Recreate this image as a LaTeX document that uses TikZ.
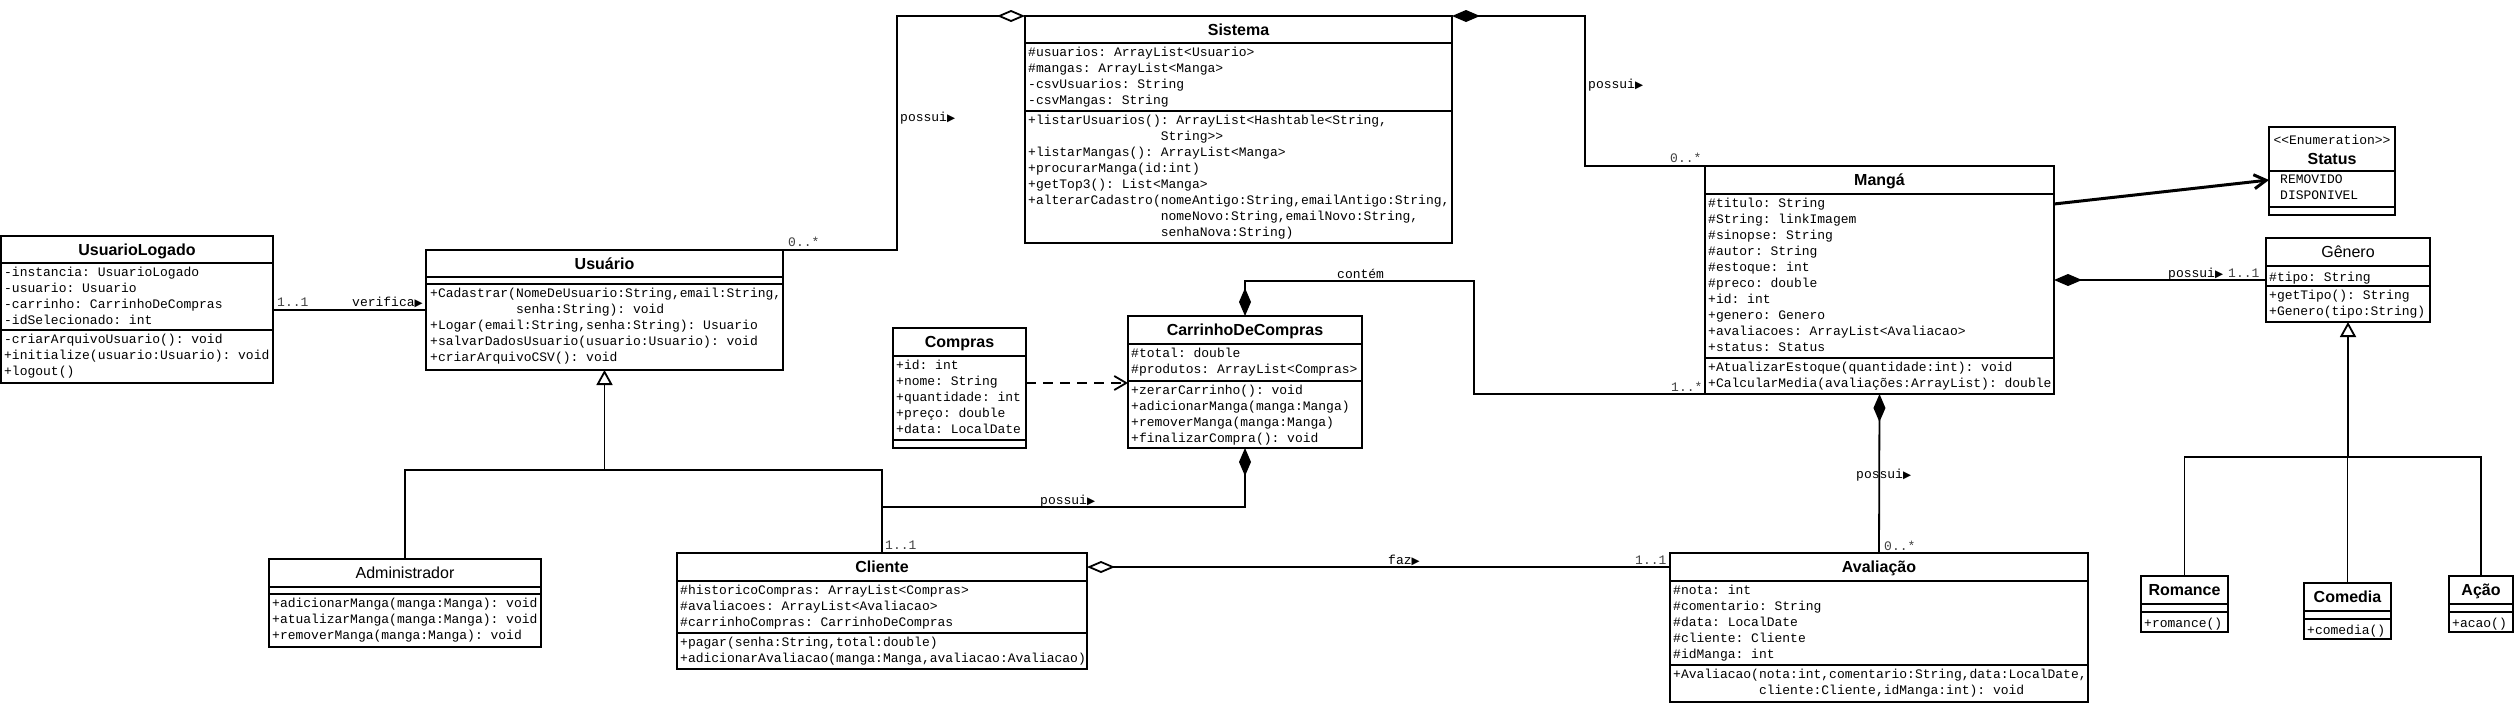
\documentclass[tikz,border=0pt]{standalone}
\usepackage{fontspec}
\setmainfont{Liberation Sans}
\setsansfont{Liberation Sans}
\setmonofont{Liberation Mono}
\newfontfamily\dvsym{DejaVu Sans}
\usetikzlibrary{arrows.meta,calc}
\newcommand\umltri{{\dvsym\fontsize{10.5}{10}\selectfont ▶}}
\begin{document}
\begin{tikzpicture}[x=1pt,y=-1pt,
  clsbox/.style={draw, line width=1.8pt, anchor=north west, inner sep=0pt, outer sep=0pt},
  ln/.style={line width=1.8pt},
  sepl/.style={line width=1.8pt},
  mono/.style={anchor=north west, inner sep=0pt, align=left, font=\fontsize{13}{16}\selectfont\ttfamily, execute at begin node=\strut},
  ttl/.style={anchor=base, inner sep=0pt, font=\fontsize{16}{19}\selectfont\sffamily\bfseries},
  ttlr/.style={anchor=base, inner sep=0pt, font=\fontsize{16}{19}\selectfont\sffamily},
  lbl/.style={anchor=base west, inner sep=0pt, font=\fontsize{13}{16}\selectfont\ttfamily},
  mult/.style={lbl, text=black!75},
  compo/.style={ln, {Diamond[length=28pt,width=12pt]}-},
  aggro/.style={ln, {Diamond[open,length=28pt,width=12pt]}-},
  genz/.style={ln, -{Triangle[length=15pt,width=16pt,fill=white]}},
  depz/.style={ln, dash pattern=on 10pt off 7pt, -{Straight Barb[length=12pt,width=14pt]}},
  asc/.style={line width=3pt, -{Straight Barb[length=12pt,width=14pt]}},
]
\fill[white] (0,0) rectangle (2515,704);
\useasboundingbox (0,0) rectangle (2515,704);

% ---------- UsuarioLogado
\node[clsbox, minimum width=272pt, minimum height=147pt] (ul) at (1,236) {};
\draw[sepl] (1,263) -- (273,263); \draw[sepl] (1,330) -- (273,330);
\node[ttl] (ulT) at (137,255.5) {UsuarioLogado};
\node[mono] (ulA) at (4,266.8) {-instancia: UsuarioLogado\\-usuario: Usuario\\-carrinho: CarrinhoDeCompras\\-idSelecionado: int};
\node[mono] (ulM) at (4,333.8) {-criarArquivoUsuario(): void\\+initialize(usuario:Usuario): void\\+logout()};

% ---------- Usuario
\node[clsbox, minimum width=357pt, minimum height=120pt] (usu) at (426,250) {};
\draw[sepl] (426,277) -- (783,277); \draw[sepl] (426,284) -- (783,284);
\node[ttl] (usuT) at (604.5,269) {Usuário};
\node[mono] (usuM) at (430,287.8) {+Cadastrar(NomeDeUsuario:String,email:String,\\\phantom{+Cadastrar(}senha:String): void\\+Logar(email:String,senha:String): Usuario\\+salvarDadosUsuario(usuario:Usuario): void\\+criarArquivoCSV(): void};

% ---------- Sistema
\node[clsbox, minimum width=427pt, minimum height=227pt] (sis) at (1025,16) {};
\draw[sepl] (1025,43) -- (1452,43); \draw[sepl] (1025,111) -- (1452,111);
\node[ttl] (sisT) at (1238.5,35) {Sistema};
\node[mono] (sisA) at (1028,46.8) {\#usuarios: ArrayList<Usuario>\\\#mangas: ArrayList<Manga>\\-csvUsuarios: String\\-csvMangas: String};
\node[mono] (sisM) at (1028,114.8) {+listarUsuarios(): ArrayList<Hashtable<String,\\\phantom{+listarUsuarios()}String>{}>\\+listarMangas(): ArrayList<Manga>\\+procurarManga(id:int)\\+getTop3(): List<Manga>\\+alterarCadastro(nomeAntigo:String,emailAntigo:String,\\\phantom{+alterarCadastro(}nomeNovo:String,emailNovo:String,\\\phantom{+alterarCadastro(}senhaNova:String)};

% ---------- Compras
\node[clsbox, minimum width=133pt, minimum height=120pt] (comp) at (893,328) {};
\draw[sepl] (893,356) -- (1026,356); \draw[sepl] (893,440) -- (1026,440);
\node[ttl] (compT) at (959.5,347.5) {Compras};
\node[mono] (compA) at (896,359.8) {+id: int\\+nome: String\\+quantidade: int\\+preço: double\\+data: LocalDate};

% ---------- CarrinhoDeCompras
\node[clsbox, minimum width=234pt, minimum height=132pt] (carr) at (1128,316) {};
\draw[sepl] (1128,344) -- (1362,344); \draw[sepl] (1128,381) -- (1362,381);
\node[ttl] (carrT) at (1245,335.5) {CarrinhoDeCompras};
\node[mono] (carrA) at (1131,347.8) {\#total: double\\\#produtos: ArrayList<Compras>};
\node[mono] (carrM) at (1131,384.8) {+zerarCarrinho(): void\\+adicionarManga(manga:Manga)\\+removerManga(manga:Manga)\\+finalizarCompra(): void};

% ---------- Manga
\node[clsbox, minimum width=349pt, minimum height=228pt] (manga) at (1705,166) {};
\draw[sepl] (1705,194) -- (2054,194); \draw[sepl] (1705,358) -- (2054,358);
\node[ttl] (mangaT) at (1879.5,185.5) {Mangá};
\node[mono] (mangaA) at (1708,197.8) {\#titulo: String\\\#String: linkImagem\\\#sinopse: String\\\#autor: String\\\#estoque: int\\\#preco: double\\+id: int\\+genero: Genero\\+avaliacoes: ArrayList<Avaliacao>\\+status: Status};
\node[mono] (mangaM) at (1708,361.8) {+AtualizarEstoque(quantidade:int): void\\+CalcularMedia(avaliações:ArrayList): double};

% ---------- Status
\node[clsbox, minimum width=126pt, minimum height=88pt] (status) at (2269,127) {};
\draw[sepl] (2269,171) -- (2395,171); \draw[sepl] (2269,207) -- (2395,207);
\node[lbl, anchor=base] (statusS) at (2332,144) {<{}<Enumeration>{}>};
\node[ttl] (statusT) at (2332,164) {Status};
\node[mono] (statusA) at (2280,174.8) {REMOVIDO\\DISPONIVEL};

% ---------- Genero
\node[clsbox, minimum width=164pt, minimum height=84pt] (gen) at (2266,238) {};
\draw[sepl] (2266,266) -- (2430,266); \draw[sepl] (2266,286) -- (2430,286);
\node[ttlr] (genT) at (2348,257.5) {Gênero};
\node[mono] (genA) at (2269,269.8) {\#tipo: String};
\node[mono] (genM) at (2269,289.8) {+getTipo(): String\\+Genero(tipo:String)};

% ---------- Romance, Comedia, Acao
\node[clsbox, minimum width=87pt, minimum height=56pt] (rom) at (2141,576) {};
\draw[sepl] (2141,604) -- (2228,604); \draw[sepl] (2141,612) -- (2228,612);
\node[ttl] (romT) at (2184.5,595.5) {Romance};
\node[mono] (romM) at (2144,615.8) {+romance()};

\node[clsbox, minimum width=87pt, minimum height=56pt] (com) at (2304,583) {};
\draw[sepl] (2304,611) -- (2391,611); \draw[sepl] (2304,619) -- (2391,619);
\node[ttl] (comT) at (2347.5,602.5) {Comedia};
\node[mono] (comM) at (2307,622.8) {+comedia()};

\node[clsbox, minimum width=64pt, minimum height=56pt] (aca) at (2449,576) {};
\draw[sepl] (2449,604) -- (2513,604); \draw[sepl] (2449,612) -- (2513,612);
\node[ttl] (acaT) at (2481,595.5) {Ação};
\node[mono] (acaM) at (2452,615.8) {+acao()};

% ---------- Administrador
\node[clsbox, minimum width=272pt, minimum height=88pt] (adm) at (269,559) {};
\draw[sepl] (269,587) -- (541,587); \draw[sepl] (269,594) -- (541,594);
\node[ttlr] (admT) at (405,578.5) {Administrador};
\node[mono] (admM) at (272,597.8) {+adicionarManga(manga:Manga): void\\+atualizarManga(manga:Manga): void\\+removerManga(manga:Manga): void};

% ---------- Cliente
\node[clsbox, minimum width=410pt, minimum height=116pt] (cli) at (677,553) {};
\draw[sepl] (677,581) -- (1087,581); \draw[sepl] (677,633) -- (1087,633);
\node[ttl] (cliT) at (882,572.5) {Cliente};
\node[mono] (cliA) at (680,584.8) {\#historicoCompras: ArrayList<Compras>\\\#avaliacoes: ArrayList<Avaliacao>\\\#carrinhoCompras: CarrinhoDeCompras};
\node[mono] (cliM) at (680,636.8) {+pagar(senha:String,total:double)\\+adicionarAvaliacao(manga:Manga,avaliacao:Avaliacao)};

% ---------- Avaliacao
\node[clsbox, minimum width=418pt, minimum height=149pt] (ava) at (1670,553) {};
\draw[sepl] (1670,581) -- (2088,581); \draw[sepl] (1670,665) -- (2088,665);
\node[ttl] (avaT) at (1879,572.5) {Avaliação};
\node[mono] (avaA) at (1673,584.8) {\#nota: int\\\#comentario: String\\\#data: LocalDate\\\#cliente: Cliente\\\#idManga: int};
\node[mono] (avaM) at (1673,668.8) {+Avaliacao(nota:int,comentario:String,data:LocalDate,\\\phantom{+Avaliacao(}cliente:Cliente,idManga:int): void};

% ---------- connectors
\coordinate (j1) at (897,250);
\coordinate (j2) at (1585,166);
\coordinate (j3) at (1474,281);
\coordinate (j4) at (882,507);
\path (usu.south) ++(0,100) coordinate (j5);
\path (gen.south) ++(0,135) coordinate (j6);

\draw[ln] (ul.east |- usu.west) -- (usu.west);
\draw[aggro] (sis.north west) -| (j1) -- (usu.north east);
\draw[compo] (sis.north east) -| (j2) -- (manga.north west);
\draw[compo] (carr.north) |- (j3) |- (manga.south west);
\draw[compo] (carr.south) |- (j4);
\draw[compo] (manga.south) -- (ava.north);
\draw[compo] (manga.east |- gen.west) -- (gen.west);
\draw[aggro] ($(cli.north east)+(0,14)$) -- ($(ava.north west)+(0,14)$);
\draw[asc] ($(manga.north east)+(0,38)$) -- ($(status.north west)+(0,53)$);
\draw[depz] ($(comp.north east)+(0,55)$) -- ($(carr.north west)+(0,67)$);
\draw[genz] (adm.north) |- (j5) -- (usu.south);
\draw[ln] (cli.north) |- (j5);
\draw[genz] (rom.north) |- (j6) -- (gen.south);
\draw[ln] (aca.north) |- (j6);
\draw[ln] (com.north) |- (j6);

% ---------- labels
\node[mult] (L1) at (277,306) {1..1};
\node[lbl] (L2) at (352,306) {verifica\umltri};
\node[mult] (L3) at (788,246) {0..*};
\node[lbl] (L4) at (900,121) {possui\umltri};
\node[lbl] (L5) at (1588,88) {possui\umltri};
\node[mult] (L6) at (1670,162) {0..*};
\node[lbl] (L7) at (1337,278) {contém};
\node[mult] (L8) at (1671,391) {1..*};
\node[lbl] (L9) at (2168,277) {possui\umltri};
\node[mult] (L10) at (2228,277) {1..1};
\node[lbl] (L11) at (1040,504) {possui\umltri};
\node[mult] (L12) at (885,549) {1..1};
\node[lbl] (L13) at (1388,564) {faz\umltri};
\node[mult] (L14) at (1635,564) {1..1};
\node[lbl] (L15) at (1856,478) {possui\umltri};
\node[mult] (L16) at (1884,550) {0..*};
\end{tikzpicture}
\end{document}
